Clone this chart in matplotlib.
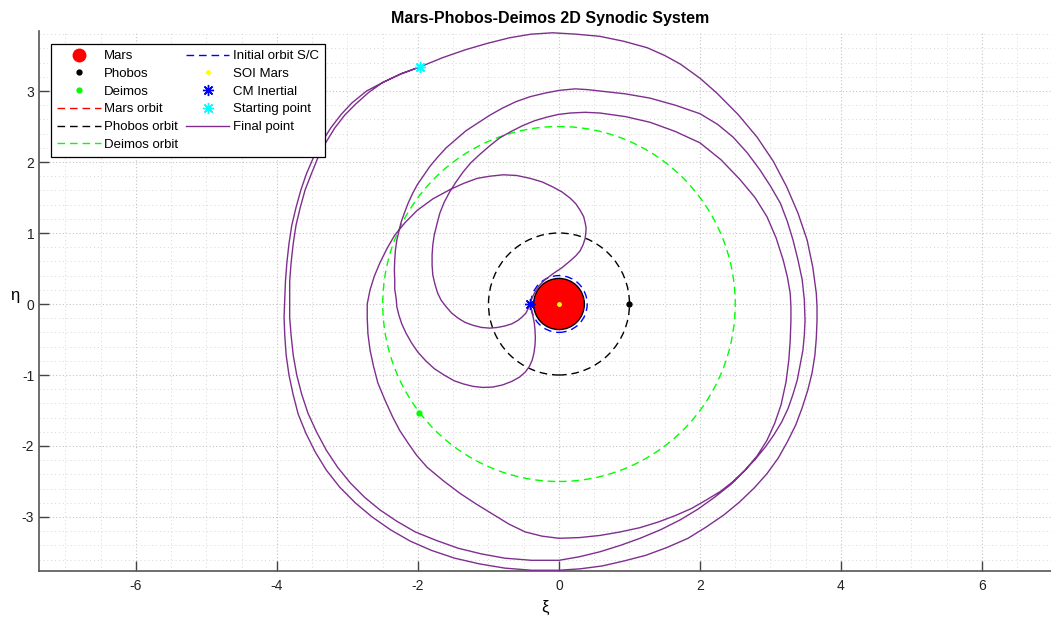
import matplotlib.pyplot as plt
from matplotlib.lines import Line2D
from matplotlib.patches import Circle
from matplotlib.ticker import MultipleLocator

plt.rcParams['font.family'] = ['Liberation Sans', 'DejaVu Sans']
plt.rcParams['axes.unicode_minus'] = False

# bodies in the synodic frame (normalised with Phobos distance)
mars_pos = (0.0, 0.0)
phobos_pos = (1.0, 0.0)
deimos_pos = (-1.98, -1.54)
cm_inertial = (-0.41, 0.0)
start_point = (-1.97, 3.34)

# radii
mars_radius = 0.36
mars_orbit_r = 0.02
phobos_orbit_r = 1.0
deimos_orbit_r = 2.5
sc_orbit_r = 0.40

# spacecraft trajectory, stored as (xi, eta) pairs and split below
traj = [
    # leaving the CM point, dip below Mars and up the inner left side
    (-0.41, 0.00), (-0.39, -0.08), (-0.37, -0.17), (-0.35, -0.27), (-0.34, -0.37),
    (-0.335, -0.48), (-0.34, -0.58), (-0.355, -0.69), (-0.38, -0.79), (-0.42, -0.88),
    (-0.48, -0.96), (-0.56, -1.03), (-0.67, -1.09), (-0.80, -1.14), (-0.94, -1.17),
    (-1.08, -1.175), (-1.22, -1.16), (-1.36, -1.125), (-1.49, -1.08), (-1.63, -1.00),
    (-1.77, -0.91), (-1.89, -0.80), (-2.00, -0.68), (-2.09, -0.55), (-2.17, -0.41),
    (-2.23, -0.28), (-2.27, -0.16), (-2.30, -0.04), (-2.31, 0.08), (-2.33, 0.21),
    (-2.33, 0.34), (-2.335, 0.48), (-2.33, 0.62), (-2.32, 0.76), (-2.30, 0.90),
    (-2.27, 1.03), (-2.24, 1.15), (-2.19, 1.29), (-2.14, 1.42), (-2.08, 1.55),
    (-2.01, 1.68), (-1.92, 1.81), (-1.83, 1.94), (-1.72, 2.07), (-1.60, 2.20),
    (-1.46, 2.32), (-1.32, 2.44), (-1.15, 2.55), (-0.98, 2.66), (-0.80, 2.76),
    (-0.61, 2.85), (-0.41, 2.92), (-0.20, 2.97), (0.01, 3.01), (0.23, 3.03),
    (0.40, 3.02), (0.58, 3.00),
    # first big loop on the right
    (0.94, 2.96), (1.29, 2.90), (1.65, 2.80), (2.00, 2.68), (2.25, 2.53),
    (2.47, 2.35), (2.67, 2.13), (2.85, 1.89), (3.00, 1.66), (3.14, 1.42),
    (3.24, 1.16), (3.32, 0.90), (3.39, 0.62), (3.45, 0.34), (3.48, 0.06),
    (3.49, -0.23), (3.48, -0.44), (3.46, -0.65), (3.42, -0.86), (3.38, -1.07),
    (3.32, -1.27), (3.25, -1.47), (3.16, -1.66), (3.05, -1.84), (2.93, -2.01),
    (2.79, -2.18), (2.64, -2.34), (2.47, -2.50), (2.29, -2.64), (2.09, -2.76),
    (1.88, -2.88), (1.65, -2.98), (1.41, -3.07), (1.15, -3.15), (0.87, -3.21),
    (0.58, -3.26), (0.29, -3.29), (0.00, -3.30),
    # back up the left and round the lobe above Mars
    (-0.24, -3.27), (-0.48, -3.21), (-0.71, -3.10), (-0.94, -2.96), (-1.17, -2.82),
    (-1.40, -2.67), (-1.64, -2.49), (-1.87, -2.30), (-2.02, -2.13), (-2.14, -1.96),
    (-2.26, -1.78), (-2.36, -1.59), (-2.47, -1.35), (-2.57, -1.11), (-2.63, -0.88),
    (-2.68, -0.65), (-2.71, -0.42), (-2.72, -0.20), (-2.72, 0.00), (-2.68, 0.20),
    (-2.62, 0.39), (-2.54, 0.58), (-2.44, 0.78), (-2.33, 0.97), (-2.18, 1.15),
    (-2.01, 1.32), (-1.79, 1.48), (-1.55, 1.61), (-1.35, 1.70), (-1.16, 1.77),
    (-0.98, 1.80), (-0.79, 1.82), (-0.60, 1.81), (-0.41, 1.77), (-0.24, 1.72),
    (-0.09, 1.65), (0.04, 1.58), (0.16, 1.49), (0.24, 1.41), (0.30, 1.32),
    (0.35, 1.23), (0.37, 1.15), (0.385, 1.07), (0.38, 1.00), (0.37, 0.92),
    (0.34, 0.83), (0.30, 0.75), (0.24, 0.68), (0.15, 0.60), (0.04, 0.51),
    (-0.08, 0.43), (-0.20, 0.34), (-0.28, 0.26), (-0.34, 0.17), (-0.38, 0.09),
    (-0.41, 0.00),
    # small dip left of Mars, then second loop
    (-0.44, -0.07), (-0.47, -0.13), (-0.52, -0.18), (-0.58, -0.23), (-0.67, -0.28),
    (-0.77, -0.31), (-0.87, -0.33), (-0.98, -0.34), (-1.10, -0.33), (-1.22, -0.30),
    (-1.33, -0.26), (-1.43, -0.20), (-1.52, -0.13), (-1.60, -0.04), (-1.67, 0.05),
    (-1.72, 0.15), (-1.76, 0.28), (-1.79, 0.41), (-1.80, 0.55), (-1.80, 0.69),
    (-1.79, 0.83), (-1.77, 0.97), (-1.73, 1.13), (-1.69, 1.28), (-1.63, 1.43),
    (-1.55, 1.58), (-1.46, 1.72), (-1.36, 1.86), (-1.25, 1.99), (-1.12, 2.11),
    (-0.98, 2.23), (-0.84, 2.34), (-0.68, 2.43), (-0.52, 2.51), (-0.35, 2.58),
    (-0.18, 2.63), (-0.01, 2.67), (0.16, 2.69), (0.37, 2.70), (0.58, 2.69),
    (0.94, 2.64), (1.29, 2.56), (1.65, 2.43), (2.00, 2.27), (2.30, 2.03),
    (2.57, 1.75), (2.78, 1.50), (2.95, 1.23), (3.08, 0.93), (3.18, 0.62),
    (3.24, 0.38), (3.28, 0.15), (3.29, -0.04), (3.29, -0.23), (3.28, -0.51),
    (3.26, -0.79), (3.22, -1.10), (3.15, -1.42), (3.06, -1.68), (2.95, -1.92),
    (2.81, -2.14), (2.64, -2.34), (2.44, -2.54), (2.21, -2.72), (1.97, -2.89),
    (1.72, -3.04), (1.44, -3.18), (1.15, -3.30), (0.87, -3.40), (0.58, -3.49),
    (0.29, -3.56), (0.00, -3.61),
    # third loop, outermost
    (-0.39, -3.61), (-0.77, -3.58), (-1.10, -3.52), (-1.43, -3.44), (-1.74, -3.33),
    (-2.04, -3.21), (-2.30, -3.06), (-2.54, -2.90), (-2.76, -2.72), (-2.96, -2.52),
    (-3.14, -2.30), (-3.30, -2.06), (-3.44, -1.80), (-3.56, -1.54), (-3.65, -1.27),
    (-3.72, -1.00), (-3.77, -0.72), (-3.80, -0.44), (-3.82, -0.19), (-3.82, 0.06),
    (-3.82, 0.32), (-3.80, 0.58), (-3.77, 0.85), (-3.73, 1.11), (-3.67, 1.36),
    (-3.60, 1.61), (-3.51, 1.84), (-3.42, 2.06), (-3.31, 2.27), (-3.18, 2.48),
    (-3.04, 2.66), (-2.88, 2.82), (-2.70, 2.98), (-2.50, 3.12), (-2.24, 3.245),
    (-1.97, 3.34), (-1.65, 3.47), (-1.33, 3.58), (-1.02, 3.67), (-0.70, 3.75),
    (-0.40, 3.80), (-0.09, 3.82), (0.25, 3.80), (0.58, 3.77), (0.92, 3.70),
    (1.25, 3.61), (1.50, 3.50), (1.72, 3.38), (2.00, 3.18), (2.24, 2.97),
    (2.54, 2.67), (2.81, 2.35), (3.04, 2.01), (3.23, 1.65), (3.39, 1.28),
    (3.52, 0.90), (3.60, 0.52), (3.65, 0.15), (3.66, -0.04), (3.66, -0.23),
    (3.65, -0.48), (3.63, -0.72), (3.59, -0.97), (3.53, -1.21), (3.45, -1.46),
    (3.36, -1.70), (3.24, -1.94), (3.11, -2.17), (2.95, -2.39), (2.77, -2.59),
    (2.56, -2.79), (2.34, -2.97), (2.09, -3.14), (1.83, -3.30), (1.53, -3.43),
    (1.23, -3.54), (0.92, -3.62), (0.61, -3.69), (0.30, -3.73), (0.00, -3.75),
    (-0.39, -3.75), (-0.77, -3.72), (-1.13, -3.66), (-1.48, -3.58), (-1.81, -3.47),
    (-2.11, -3.34), (-2.39, -3.18), (-2.65, -3.00), (-2.89, -2.80), (-3.11, -2.58),
    (-3.30, -2.34), (-3.46, -2.08), (-3.59, -1.82), (-3.70, -1.55), (-3.77, -1.28),
    (-3.83, -1.00), (-3.87, -0.72), (-3.89, -0.44), (-3.90, -0.19), (-3.89, 0.06),
    (-3.88, 0.32), (-3.86, 0.58), (-3.83, 0.85), (-3.79, 1.11), (-3.73, 1.36),
    (-3.66, 1.61), (-3.58, 1.84), (-3.48, 2.07), (-3.36, 2.29), (-3.23, 2.49),
    (-3.09, 2.67), (-2.94, 2.83), (-2.73, 3.00), (-2.50, 3.12), (-2.24, 3.24),
    (-1.97, 3.34),
]
traj_xi = [p[0] for p in traj]
traj_eta = [p[1] for p in traj]

purple = '#7e2f8e'
green = '#00ff00'
dash = (0, (5.5, 3.5))

fig = plt.figure(figsize=(10.51, 6.19), dpi=100)
ax = fig.add_axes([0.0371, 0.0775, 0.9629, 0.8724])

# grid (major + minor, dotted)
ax.xaxis.set_major_locator(MultipleLocator(2))
ax.xaxis.set_minor_locator(MultipleLocator(0.5))
ax.yaxis.set_major_locator(MultipleLocator(1))
ax.yaxis.set_minor_locator(MultipleLocator(0.2))
ax.grid(which='major', ls=(0, (1, 2)), color='#c4c4c4', lw=0.8)
ax.grid(which='minor', ls=(0, (1, 3)), color='#d6d6d6', lw=0.7)
ax.set_axisbelow(True)

# orbits
ax.add_patch(Circle(mars_pos, mars_orbit_r, fill=False, ec='red', ls=dash, lw=1, zorder=2))
ax.add_patch(Circle(mars_pos, phobos_orbit_r, fill=False, ec='black', ls=dash, lw=1, zorder=2))
ax.add_patch(Circle(mars_pos, deimos_orbit_r, fill=False, ec=green, ls=dash, lw=1, zorder=2))
ax.add_patch(Circle(mars_pos, sc_orbit_r, fill=False, ec='blue', ls=dash, lw=1, zorder=2))

# Mars disk
ax.add_patch(Circle(mars_pos, mars_radius, fc='red', ec='black', lw=1, zorder=3))

# trajectory
ax.plot(traj_xi, traj_eta, color=purple, lw=1.0, zorder=4)

# point markers
ax.plot(*phobos_pos, 'o', color='black', ms=3.5, zorder=5)
ax.plot(*deimos_pos, 'o', color=green, ms=3.5, zorder=5)
ax.plot(*mars_pos, 'o', color='yellow', ms=2.5, zorder=5)
ax.plot(*cm_inertial, marker=(8, 2, 0), color='blue', ms=8, mew=1, zorder=5)
ax.plot(*start_point, marker=(8, 2, 0), color='cyan', ms=8, mew=1, zorder=5)

ax.set_xlim(-7.376, 6.979)
ax.set_ylim(-3.761, 3.845)

for side in ['top', 'right']:
    ax.spines[side].set_visible(False)
for side in ['left', 'bottom']:
    ax.spines[side].set_color('#555555')
    ax.spines[side].set_linewidth(1.2)
ax.tick_params(which='major', direction='in', length=7, width=1, color='#444444',
               labelsize=10, labelcolor='#222222')
ax.tick_params(axis='x', pad=6)
ax.tick_params(which='minor', length=0)

ax.set_title('Mars-Phobos-Deimos 2D Synodic System', fontsize=11.5, fontweight='bold',
             pad=6, x=0.505)
ax.set_xlabel('ξ', fontsize=12, labelpad=5)
ax.set_ylabel('η', fontsize=12, rotation=0, va='center')
ax.yaxis.set_label_coords(-0.024, 0.51)

# legend
handles = [
    Line2D([], [], ls='none', marker='o', ms=9, color='red'),
    Line2D([], [], ls='none', marker='o', ms=3.5, color='black'),
    Line2D([], [], ls='none', marker='o', ms=3.5, color=green),
    Line2D([], [], ls=dash, lw=1, color='red'),
    Line2D([], [], ls=dash, lw=1, color='black'),
    Line2D([], [], ls=dash, lw=1, color=green),
    Line2D([], [], ls=dash, lw=1, color='blue'),
    Line2D([], [], ls='none', marker='o', ms=2.5, color='yellow'),
    Line2D([], [], ls='none', marker=(8, 2, 0), ms=8, color='blue'),
    Line2D([], [], ls='none', marker=(8, 2, 0), ms=8, color='cyan'),
    Line2D([], [], lw=1, color=purple),
]
labels = ['Mars', 'Phobos', 'Deimos', 'Mars orbit', 'Phobos orbit', 'Deimos orbit',
          'Initial orbit S/C', 'SOI Mars', 'CM Inertial', 'Starting point', 'Final point']
leg = ax.legend(handles, labels, ncol=2, loc='upper left', bbox_to_anchor=(0.0119, 0.976),
                borderaxespad=0, fontsize=9.5, handlelength=3.3, handletextpad=0.25,
                labelspacing=0.42, columnspacing=0.6, borderpad=0.45,
                fancybox=False, framealpha=1, edgecolor='black')
leg.get_frame().set_linewidth(0.9)
leg.set_zorder(10)

fig.savefig('out.png', dpi=100)
